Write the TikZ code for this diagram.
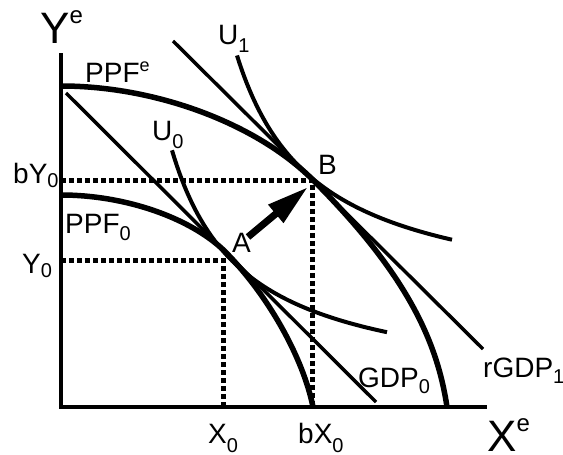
\documentclass[tikz,border=0pt]{standalone}
\usepackage{fontspec}
\setmainfont{Liberation Sans}
\usetikzlibrary{arrows.meta}
\newcommand\lsub[2]{\raisebox{-#1}{\fontsize{20}{20}\selectfont #2}}
\newcommand\lsup[3]{\raisebox{#1}{\fontsize{#2}{#2}\selectfont #3}}
\tikzset{
  lbl/.style={anchor=base west, inner sep=0pt, font=\fontsize{28}{28}\selectfont},
  biglbl/.style={anchor=base west, inner sep=0pt, font=\fontsize{44}{44}\selectfont},
  axisline/.style={line width=4pt},
  ppfline/.style={line width=5.5pt},
  ucurve/.style={line width=4pt},
  gdpline/.style={line width=3.5pt},
  dotline/.style={line width=5pt, dash pattern=on 5pt off 3pt},
  bigarrow/.style={line width=7pt, -{Triangle[length=42pt,width=22pt]}}
}
\begin{document}
\begin{tikzpicture}[x=1pt,y=-1pt]
\useasboundingbox (0,0) rectangle (563,455);
\coordinate (O) at (61,407);
\coordinate (A) at (224,250.5);
\coordinate (B) at (313,180);
\coordinate (Ad) at (223,260);
\coordinate (Bd) at (312,180);
\coordinate (Ytop) at (61,53);
\coordinate (Xend) at (487,407);
% axes
\draw[axisline] (Ytop) -- (O) -- (Xend);
% dotted guides
\draw[dotline] (O|-Ad) -- (Ad) -- (Ad|-O);
\draw[dotline] (O|-Bd) -- (Bd) -- (Bd|-O);
% PPF curves
\coordinate (pe0) at (61,86);
\coordinate (pe1) at (447,407);
\draw[ppfline] (pe0) .. controls (155.8,86) and (256.6,123.6) .. (B)
   .. controls (407,274) and (437.2,341.4) .. (pe1);
\coordinate (p00) at (61,195);
\coordinate (p01) at (313,407);
\draw[ppfline] (p00) .. controls (124.6,195) and (189.4,217.4) .. (A)
   .. controls (268,294.5) and (303,357.5) .. (p01);
% indifference curves
\draw[ucurve] plot[domain=172:387,samples=90,variable=\x] (\x,{393.1-174.8/((\x-100)/100)});
\draw[ucurve] plot[domain=237:452,samples=90,variable=\x] (\x,{307.4-199/((\x-158)/100)});
% GDP lines
\coordinate (g0s) at (66,93);
\coordinate (g0e) at (376,402);
\coordinate (g1s) at (173,41);
\coordinate (g1e) at (483,349);
\draw[gdpline] (g0s) -- (g0e);
\draw[gdpline] (g1s) -- (g1e);
% arrow
\coordinate (arT) at (248,237);
\coordinate (arH) at (308,187);
\draw[bigarrow] (arT) -- (arH);
% labels
\node[biglbl] (ly) at (40,43) {Y\lsup{20pt}{24}{e}};
\node[biglbl] (lx) at (487,451) {X\lsup{20pt}{24}{e}};
\node[lbl] (lppfe) at (85,82) {PPF\lsup{11pt}{18}{e}};
\node[lbl] (lu1) at (218,45) {U\lsub{8pt}{1}};
\node[lbl] (lu0) at (152,140) {U\lsub{8pt}{0}};
\node[lbl] (lby) at (13,183) {bY\lsub{4pt}{0}};
\node[lbl] (lppf0) at (65,233) {PPF\lsub{7pt}{0}};
\node[lbl] (ly0) at (22,273) {Y\lsub{4pt}{0}};
\node[lbl] (la) at (232,252) {A};
\node[lbl] (lb) at (318,174) {B};
\node[lbl] (lx0) at (208,443) {X\lsub{9pt}{0}};
\node[lbl] (lbx) at (298,443) {bX\lsub{9pt}{0}};
\node[lbl] (lg0) at (358,387) {GDP\lsub{6pt}{0}};
\node[lbl] (lg1) at (483,377) {rGDP\lsub{6pt}{1}};
\end{tikzpicture}
\end{document}
